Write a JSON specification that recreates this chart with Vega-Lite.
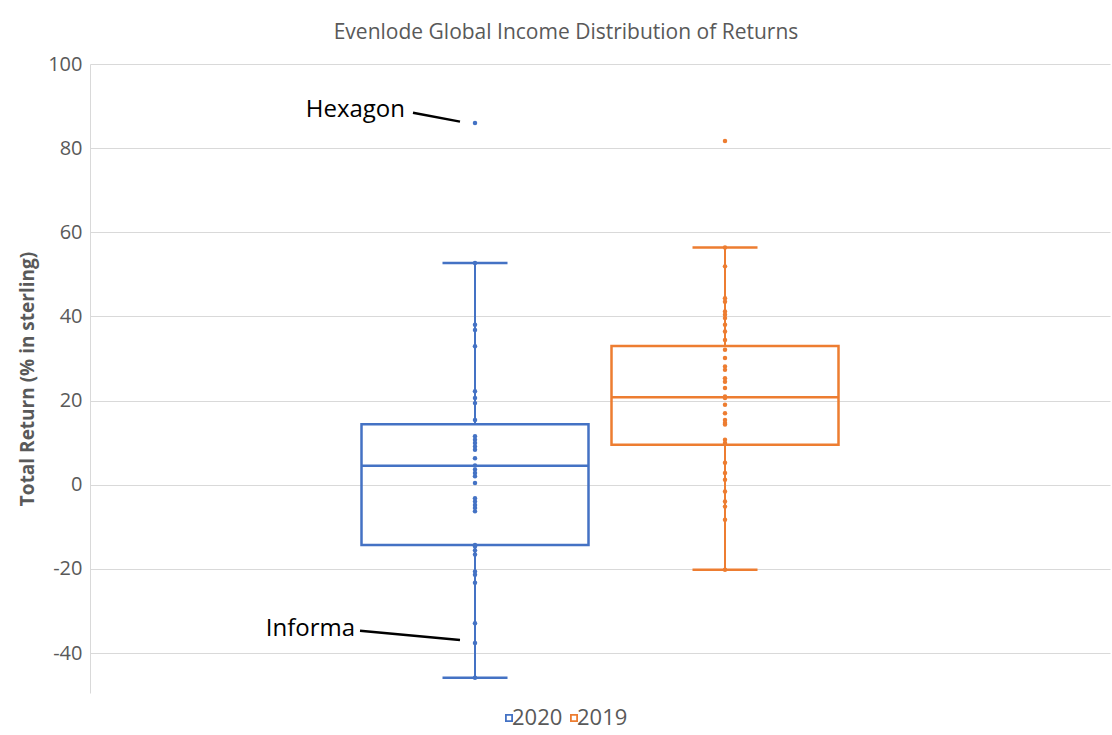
{
  "$schema": "https://vega.github.io/schema/vega-lite/v6.json",
  "autosize": "none",
  "width": 1020,
  "height": 629,
  "padding": {"left": 90, "top": 64, "right": 2, "bottom": 42},
  "background": "white",
  "title": {
    "text": "Evenlode Global Income Distribution of Returns",
    "font": "Open Sans",
    "fontSize": 21,
    "fontWeight": "normal",
    "color": "#595959",
    "anchor": "middle",
    "dx": -34,
    "offset": 11
  },
  "datasets": {
    "points": [
      {"series": "2020", "value": 86.0}, {"series": "2020", "value": 52.7}, {"series": "2020", "value": 38.0},
      {"series": "2020", "value": 36.8}, {"series": "2020", "value": 32.9}, {"series": "2020", "value": 22.2},
      {"series": "2020", "value": 20.6}, {"series": "2020", "value": 19.4}, {"series": "2020", "value": 15.4},
      {"series": "2020", "value": 11.5}, {"series": "2020", "value": 10.7}, {"series": "2020", "value": 9.9},
      {"series": "2020", "value": 9.1}, {"series": "2020", "value": 8.3}, {"series": "2020", "value": 6.3},
      {"series": "2020", "value": 4.6}, {"series": "2020", "value": 3.6}, {"series": "2020", "value": 2.8},
      {"series": "2020", "value": 2.0}, {"series": "2020", "value": 0.4}, {"series": "2020", "value": -3.2},
      {"series": "2020", "value": -4.0}, {"series": "2020", "value": -4.8}, {"series": "2020", "value": -5.5},
      {"series": "2020", "value": -6.3}, {"series": "2020", "value": -14.3}, {"series": "2020", "value": -14.7},
      {"series": "2020", "value": -15.6}, {"series": "2020", "value": -16.6}, {"series": "2020", "value": -20.6},
      {"series": "2020", "value": -21.4}, {"series": "2020", "value": -23.3}, {"series": "2020", "value": -32.9},
      {"series": "2020", "value": -37.6}, {"series": "2020", "value": -45.9},
      {"series": "2019", "value": 81.7}, {"series": "2019", "value": 56.4}, {"series": "2019", "value": 51.9},
      {"series": "2019", "value": 44.3}, {"series": "2019", "value": 43.5}, {"series": "2019", "value": 41.2},
      {"series": "2019", "value": 40.4}, {"series": "2019", "value": 39.6}, {"series": "2019", "value": 38.0},
      {"series": "2019", "value": 36.4}, {"series": "2019", "value": 34.4}, {"series": "2019", "value": 32.1},
      {"series": "2019", "value": 30.1}, {"series": "2019", "value": 28.1}, {"series": "2019", "value": 27.3},
      {"series": "2019", "value": 25.3}, {"series": "2019", "value": 24.5}, {"series": "2019", "value": 23.0},
      {"series": "2019", "value": 21.0}, {"series": "2019", "value": 20.6}, {"series": "2019", "value": 19.0},
      {"series": "2019", "value": 17.0}, {"series": "2019", "value": 15.4}, {"series": "2019", "value": 14.7},
      {"series": "2019", "value": 14.3}, {"series": "2019", "value": 10.7}, {"series": "2019", "value": 9.9},
      {"series": "2019", "value": 5.2}, {"series": "2019", "value": 2.8}, {"series": "2019", "value": 1.2},
      {"series": "2019", "value": -1.6}, {"series": "2019", "value": -4.0}, {"series": "2019", "value": -5.2},
      {"series": "2019", "value": -8.3}, {"series": "2019", "value": -20.2}
    ],
    "stats": [
      {"series": "2020", "lo": -45.9, "q1": -14.3, "median": 4.5, "q3": 14.4, "hi": 52.7},
      {"series": "2019", "lo": -20.2, "q1": 9.5, "median": 20.8, "q3": 33.0, "hi": 56.4}
    ],
    "hexagon": [{"series": "2020", "label": "Hexagon", "ty": 89.0, "y1": 88.4, "y2": 86.3}],
    "informa": [{"series": "2020", "label": "Informa", "ty": -34.4, "y1": -34.7, "y2": -36.9}]
  },
  "encoding": {
    "x": {
      "field": "series",
      "type": "nominal",
      "scale": {"type": "point", "domain": ["L", "2020", "2019", "R"], "padding": 0.54},
      "axis": null
    }
  },
  "layer": [
    {
      "data": {"name": "stats"},
      "mark": {"type": "bar", "filled": false, "strokeWidth": 2.5, "size": 227},
      "encoding": {
        "y": {
          "field": "q1",
          "type": "quantitative",
          "title": "Total Return (% in sterling)",
          "scale": {"domain": [-49.5, 100], "nice": false, "zero": false},
          "axis": {"values": [-40, -20, 0, 20, 40, 60, 80, 100], "labelExpr": "'' + datum.value"}
        },
        "y2": {"field": "q3"},
        "stroke": {
          "field": "series",
          "type": "nominal",
          "scale": {"domain": ["2020", "2019"], "range": ["#4472C4", "#ED7D31"]},
          "legend": {
            "orient": "none",
            "direction": "horizontal",
            "legendX": 408,
            "legendY": 643,
            "title": null,
            "symbolType": "M-1,-1H1V1H-1Z M-0.55,-0.55V0.55H0.55V-0.55Z",
            "symbolSize": 64,
            "symbolStrokeWidth": 0,
            "labelFont": "Open Sans",
            "labelFontSize": 22,
            "labelColor": "#595959",
            "labelOffset": -8,
            "columnPadding": -5,
            "encode": {
              "symbols": {
                "update": {
                  "fill": {"scale": "stroke", "field": "value"},
                  "fillOpacity": {"value": 1},
                  "strokeWidth": {"value": 0}
                }
              }
            }
          }
        }
      }
    },
    {
      "data": {"name": "stats"},
      "mark": {"type": "rule", "strokeWidth": 2},
      "encoding": {
        "y": {"field": "lo", "type": "quantitative", "title": "Total Return (% in sterling)"},
        "y2": {"field": "q1"},
        "color": {
          "field": "series",
          "type": "nominal",
          "scale": {"domain": ["2020", "2019"], "range": ["#4472C4", "#ED7D31"]},
          "legend": null
        }
      }
    },
    {
      "data": {"name": "stats"},
      "mark": {"type": "rule", "strokeWidth": 2},
      "encoding": {
        "y": {"field": "q3", "type": "quantitative", "title": "Total Return (% in sterling)"},
        "y2": {"field": "hi"},
        "color": {"field": "series", "type": "nominal", "legend": null}
      }
    },
    {
      "data": {"name": "stats"},
      "mark": {"type": "tick", "size": 227, "thickness": 2.5, "opacity": 1},
      "encoding": {
        "y": {"field": "median", "type": "quantitative", "title": "Total Return (% in sterling)"},
        "color": {"field": "series", "type": "nominal", "legend": null}
      }
    },
    {
      "data": {"name": "stats"},
      "mark": {"type": "tick", "size": 65, "thickness": 2.5, "opacity": 1},
      "encoding": {
        "y": {"field": "lo", "type": "quantitative", "title": "Total Return (% in sterling)"},
        "color": {"field": "series", "type": "nominal", "legend": null}
      }
    },
    {
      "data": {"name": "stats"},
      "mark": {"type": "tick", "size": 65, "thickness": 2.5, "opacity": 1},
      "encoding": {
        "y": {"field": "hi", "type": "quantitative", "title": "Total Return (% in sterling)"},
        "color": {"field": "series", "type": "nominal", "legend": null}
      }
    },
    {
      "data": {"name": "points"},
      "mark": {"type": "circle", "size": 20, "opacity": 1},
      "encoding": {
        "y": {"field": "value", "type": "quantitative", "title": "Total Return (% in sterling)"},
        "color": {"field": "series", "type": "nominal", "legend": null}
      }
    },
    {
      "data": {"name": "hexagon"},
      "mark": {"type": "rule", "color": "black", "strokeWidth": 2.5, "xOffset": -62, "x2Offset": -15},
      "encoding": {
        "x2": {"field": "series"},
        "y": {"field": "y1", "type": "quantitative", "title": "Total Return (% in sterling)"},
        "y2": {"field": "y2"}
      }
    },
    {
      "data": {"name": "informa"},
      "mark": {"type": "rule", "color": "black", "strokeWidth": 2.5, "xOffset": -115, "x2Offset": -15},
      "encoding": {
        "x2": {"field": "series"},
        "y": {"field": "y1", "type": "quantitative", "title": "Total Return (% in sterling)"},
        "y2": {"field": "y2"}
      }
    },
    {
      "data": {"name": "hexagon"},
      "mark": {"type": "text", "align": "right", "baseline": "middle", "dx": -70, "font": "Open Sans", "fontSize": 24, "color": "black"},
      "encoding": {
        "y": {"field": "ty", "type": "quantitative", "title": "Total Return (% in sterling)"},
        "text": {"field": "label"}
      }
    },
    {
      "data": {"name": "informa"},
      "mark": {"type": "text", "align": "right", "baseline": "middle", "dx": -120, "font": "Open Sans", "fontSize": 24, "color": "black"},
      "encoding": {
        "y": {"field": "ty", "type": "quantitative", "title": "Total Return (% in sterling)"},
        "text": {"field": "label"}
      }
    }
  ],
  "config": {
    "view": {"stroke": null},
    "axisY": {
      "grid": true,
      "gridColor": "#d9d9d9",
      "gridWidth": 1,
      "domain": true,
      "domainColor": "#d9d9d9",
      "domainWidth": 1,
      "ticks": false,
      "labelFont": "Open Sans",
      "labelFontSize": 20,
      "labelColor": "#595959",
      "labelPadding": 8,
      "titleFont": "Open Sans",
      "titleFontSize": 19,
      "titleFontWeight": "bold",
      "titleColor": "#595959",
      "titlePadding": 10
    }
  }
}
